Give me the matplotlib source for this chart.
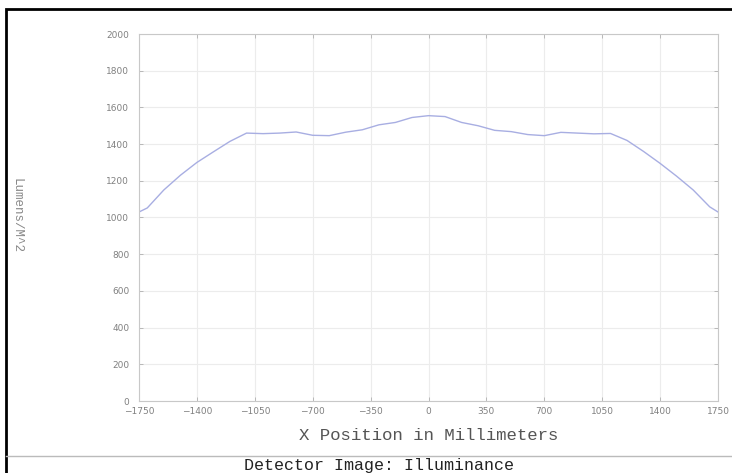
import matplotlib.pyplot as plt
from matplotlib.patches import Rectangle
from matplotlib.lines import Line2D

# Illuminance profile
x_mm = [-1750, -1700, -1600, -1500, -1400, -1300, -1200, -1100, -1000, -900,
        -800, -700, -600, -500, -400, -300, -200, -100, 0, 100,
        200, 300, 400, 500, 600, 700, 800, 900, 1000, 1100,
        1200, 1300, 1400, 1500, 1600, 1700, 1750]
lumens = [1030, 1052, 1150, 1230, 1300, 1358, 1415, 1460, 1457, 1460,
          1466, 1448, 1446, 1465, 1478, 1505, 1518, 1545, 1555, 1550,
          1518, 1500, 1475, 1468, 1452, 1446, 1464, 1460, 1456, 1458,
          1420, 1360, 1295, 1225, 1150, 1058, 1030]
x_ticks = [-1750, -1400, -1050, -700, -350, 0, 350, 700, 1050, 1400, 1750]
y_ticks = [0, 200, 400, 600, 800, 1000, 1200, 1400, 1600, 1800, 2000]

W, H = 732, 473
fig = plt.figure(figsize=(W / 100, H / 100), dpi=100)
ax = fig.add_axes([139 / W, 1 - 401 / H, (718 - 139) / W, (401 - 34) / H])

ax.plot(x_mm, lumens, color='#a8aee2', linewidth=1.0)
ax.set_xlim(-1750, 1750)
ax.set_ylim(0, 2000)
ax.set_xticks(x_ticks)
ax.set_yticks(y_ticks)
ax.grid(True, color='#ececec', linewidth=0.8)
for s in ax.spines.values():
    s.set_color('#c8c8c8')
    s.set_linewidth(0.8)
ax.tick_params(direction='in', length=3, width=0.6, color='#b0b0b0',
               top=True, right=True, labelsize=6.5, labelcolor='#808080')
ax.tick_params(axis='y', pad=7)
ax.tick_params(axis='x', pad=4)

ax.set_xlabel('X Position in Millimeters', family='Liberation Mono',
              fontsize=12.5, color='#555555', labelpad=9)
fig.text(16 / W, 1 - 215 / H, 'Lumens/M^2', family='Liberation Mono',
         fontsize=9, color='#888888', rotation=270, ha='center', va='center')

# frame around the whole detector window
fig.patches.append(Rectangle((6 / W, -0.05), 1.1, 1 - 9 / H + 0.05,
                             transform=fig.transFigure, fill=False,
                             edgecolor='black', linewidth=2))
fig.lines.append(Line2D([6 / W, 1], [1 - 456 / H, 1 - 456 / H],
                        transform=fig.transFigure, color='#bbbbbb', linewidth=1))
fig.text(379 / W, 1 - 465 / H, 'Detector Image: Illuminance', family='Liberation Mono',
         fontsize=12, color='#222222', ha='center', va='center')

fig.savefig('out.png', dpi=100)
